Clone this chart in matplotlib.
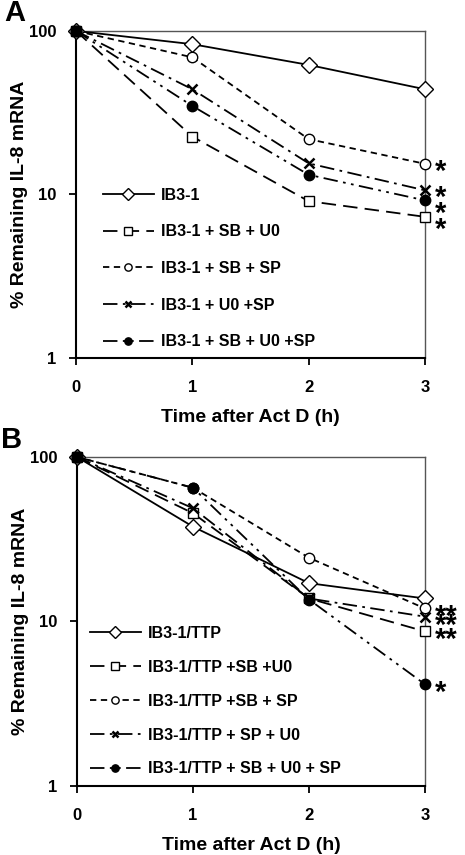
import matplotlib.pyplot as plt
from matplotlib.ticker import FixedLocator, NullLocator

plt.rcParams['font.family'] = ['Liberation Sans', 'DejaVu Sans']
plt.rcParams['font.weight'] = 'bold'

hours = [0, 1, 2, 3]

# panel A: IB3-1 cells
labels_a = ["IB3-1", "IB3-1 + SB + U0", "IB3-1 + SB + SP", "IB3-1 + U0 +SP", "IB3-1 + SB + U0 +SP"]
ib3 = [100, 83, 62, 44]
ib3_sb_u0 = [100, 22.6, 9.1, 7.3]
ib3_sb_sp = [100, 69, 21.8, 15.4]
ib3_u0_sp = [100, 44, 15.5, 10.6]
ib3_all = [100, 34.8, 13.2, 9.2]
stars_a = [None, "*", "*", "*", "*"]

# panel B: IB3-1/TTP cells
labels_b = ["IB3-1/TTP", "IB3-1/TTP +SB +U0", "IB3-1/TTP +SB + SP", "IB3-1/TTP + SP + U0",
            "IB3-1/TTP + SB + U0 + SP"]
ttp = [100, 37.7, 17.1, 13.8]
ttp_sb_u0 = [100, 45.5, 13.8, 8.7]
ttp_sb_sp = [100, 65, 24.4, 12.0]
ttp_sp_u0 = [100, 48.8, 13.8, 10.7]
ttp_all = [100, 65, 13.6, 4.15]
stars_b = [None, "**", "**", "**", "*"]

styles = [
    dict(ls="-", marker="D", mfc="white", ms=8.5),
    dict(ls=(0, (8, 4)), marker="s", mfc="white", ms=7.5),
    dict(ls=(0, (3.5, 2.5)), marker="o", mfc="white", ms=7.5),
    dict(ls=(0, (8, 3, 1.5, 3)), marker="x", mfc="white", ms=7, mew=1.8),
    dict(ls=(0, (8, 3, 1.5, 3, 1.5, 3)), marker="o", mfc="black", ms=7.5),
]


def draw_panel(ax, series, labels, stars, star_offsets, legend_anchor, spacing):
    for vals, lab, st in zip(series, labels, styles):
        ax.plot(hours, vals, color="black", lw=1.3, mec="black", label=lab,
                clip_on=False, zorder=3, **st)
    # significance stars next to the 3 h points
    for vals, s, dy in zip(series, stars, star_offsets):
        if s is None:
            continue
        ax.annotate(s, (3, vals[-1]), xytext=(7, dy), textcoords="offset points",
                    fontsize=21, fontweight="bold", va="center", ha="left",
                    annotation_clip=False)
    ax.set_yscale("log")
    ax.set_xlim(0, 3)
    ax.set_ylim(1, 100)
    ax.yaxis.set_major_locator(FixedLocator([1, 10, 100]))
    ax.yaxis.set_minor_locator(NullLocator())
    ax.set_yticklabels(["1", "10", "100"])
    ax.set_xticks(hours)
    ax.tick_params(labelsize=12, length=5, width=1.3, direction="out")
    ax.tick_params(axis="x", pad=11)
    ax.tick_params(axis="y", pad=9)
    for side in ["left", "bottom"]:
        ax.spines[side].set_linewidth(1.5)
    for side in ["top", "right"]:
        ax.spines[side].set_color("#555555")
        ax.spines[side].set_linewidth(1.0)
    ax.set_xlabel("Time after Act D (h)", fontsize=14, fontweight="bold", labelpad=10)
    ax.set_ylabel("% Remaining IL-8 mRNA", fontsize=14, fontweight="bold", labelpad=1)
    ax.legend(loc="upper left", bbox_to_anchor=legend_anchor, frameon=False,
              numpoints=1, markerscale=0.7, handlelength=3.2, handletextpad=0.45,
              labelspacing=spacing, prop=dict(size=11.5, weight="bold"))


fig = plt.figure(figsize=(4.65, 8.55), dpi=100)
ax_a = fig.add_axes([0.1634, 0.5813, 0.7505, 0.3825])
ax_b = fig.add_axes([0.1656, 0.0807, 0.7484, 0.3848])

draw_panel(ax_a, [ib3, ib3_sb_u0, ib3_sb_sp, ib3_u0_sp, ib3_all], labels_a, stars_a,
           [None, -9.5, -6, -5.5, -10], (0.035, 0.564), 1.35)
draw_panel(ax_b, [ttp, ttp_sb_u0, ttp_sb_sp, ttp_sp_u0, ttp_all], labels_b, stars_b,
           [None, -6, -6, -7, -6], (-0.005, 0.53), 1.18)

fig.text(0.01, 0.9754, "A", fontsize=21, fontweight="bold", va="baseline", ha="left")
fig.text(0.002, 0.476, "B", fontsize=21, fontweight="bold", va="baseline", ha="left")

fig.savefig("out.png", dpi=100)
